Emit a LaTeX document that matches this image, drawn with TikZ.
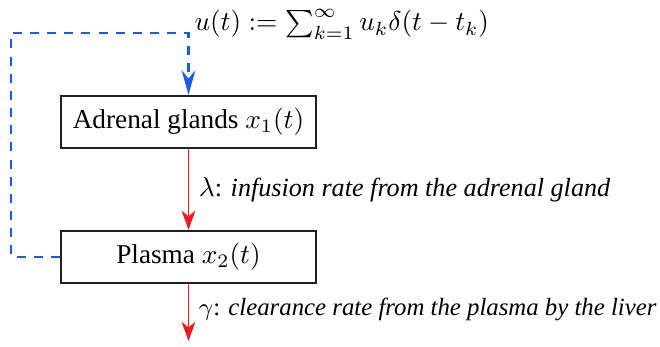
\documentclass[tikz,border=0pt]{standalone}
\usepackage[no-math]{fontspec}
\setmainfont{Liberation Serif}
\usetikzlibrary{arrows.meta}
\definecolor{injblue}{RGB}{26,90,235}
\definecolor{flowred}{RGB}{236,28,36}
\definecolor{boxline}{RGB}{35,31,32}
\newcommand{\labit}[1]{{\itshape #1}}
\begin{document}
\begin{tikzpicture}[x=0.367pt,y=-0.367pt,
  box/.style={draw=boxline, line width=0.8pt, minimum width=93.6pt, minimum height=19.1pt, inner sep=0pt},
  flow/.style={draw=flowred, line width=0.6pt, -{Stealth[length=7pt,width=5pt,inset=2pt,fill=flowred]}},
  inject/.style={draw=injblue, line width=0.75pt, dash pattern=on 3.3pt off 3pt},
  lab/.style={anchor=west, inner sep=0pt}]
\useasboundingbox (0,0) rectangle (660,347);
\node[box] (b1) at (188.5,122) {Adrenal glands $x_1(t)$};
\node[box] (b2) at (188.5,257) {Plasma $x_2(t)$};
\coordinate (c1) at (11,257);
\coordinate (c2) at (11,33);
\coordinate (c3) at (188.5,33);
\coordinate (out) at (188.5,341);
\node[anchor=base west, inner sep=0pt, font=\fontsize{9.55}{11}\selectfont] (u) at (194,31) {$u(t) := \sum_{k=1}^{\infty} u_k \delta(t-t_k)$};
\draw[inject, -{Stealth[length=9pt,width=5pt,inset=3pt,fill=injblue]}] (b2.west) -- (c1) -- (c2) -- (c3) -- (b1.north);
\draw[flow] (b1.south) -- (b2.north) node[midway, lab, xshift=3.5pt, font=\fontsize{9.6}{11}\selectfont] (l1) {$\lambda$: \labit{infusion rate from the adrenal gland}};
\draw[flow] (b2.south) -- (out) node[midway, lab, xshift=3.5pt, yshift=1pt, font=\fontsize{9.1}{11}\selectfont] (l2) {$\gamma$: \labit{clearance rate from the plasma by the liver}};
\end{tikzpicture}
\end{document}
